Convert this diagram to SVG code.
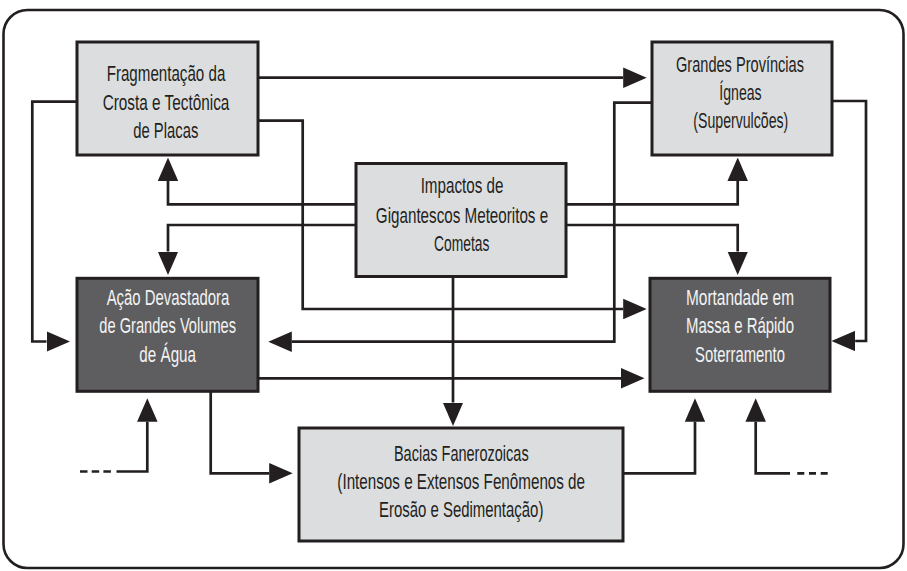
<svg xmlns="http://www.w3.org/2000/svg" width="907" height="571" viewBox="0 0 907 571">
  <style>
    .frame { fill: #ffffff; stroke: #231f20; stroke-width: 2.6; }
    .box-light { fill: #dcdddf; stroke: #231f20; stroke-width: 3; }
    .box-dark { fill: #5e5e60; stroke: #231f20; stroke-width: 3; }
    .lbl { font-family: "Liberation Sans", Arial, sans-serif; font-size: 22px; text-anchor: middle; }
    .lbl-dark { fill: #231f20; }
    .lbl-light { fill: #f4f4f4; }
    .conn { fill: none; stroke: #231f20; stroke-width: 2.7; stroke-linejoin: miter; stroke-linecap: butt; }
    .conn-arrow { marker-end: url(#arr); }
  </style>
  <defs>
    <marker id="arr" viewBox="0 0 23.5 20.5" refX="0" refY="10.25" markerWidth="23.5" markerHeight="20.5" markerUnits="userSpaceOnUse" orient="auto">
      <path d="M0,0 L23.5,10.25 L0,20.5 z" fill="#231f20"/>
    </marker>
  </defs>

  <!-- outer rounded frame -->
  <rect class="frame" x="3.5" y="10" width="900" height="558" rx="24" ry="24"/>

  <!-- connectors -->
  <g id="connectors">
    <path class="conn conn-arrow" d="M258,77.7 H623.2"/>
    <path class="conn conn-arrow" d="M77,101.7 H32.3 V341.5 H46.5"/>
    <path class="conn conn-arrow" d="M258,120.7 H302.7 V309 H623.2"/>
    <path class="conn conn-arrow" d="M652,102.7 H614.3 V341.7 H291.8"/>
    <path class="conn conn-arrow" d="M832,101 H866 V341 H855.2"/>
    <path class="conn conn-arrow" d="M356,204.3 H168 V181"/>
    <path class="conn conn-arrow" d="M356,225 H168 V251.5"/>
    <path class="conn conn-arrow" d="M566,204.3 H737.7 V181"/>
    <path class="conn conn-arrow" d="M566,225 H737.7 V251.5"/>
    <path class="conn conn-arrow" d="M453,276.5 V402.5"/>
    <path class="conn conn-arrow" d="M258,378.3 H621"/>
    <path class="conn conn-arrow" d="M210.7,391 V473.3 H269.2"/>
    <path class="conn conn-arrow" d="M623,473.3 H695 V421.8"/>
    <path class="conn conn-arrow" d="M116.5,471.5 H147.3 V421.8"/>
    <path class="conn" d="M80,471.5 H111" stroke-dasharray="7.5 4.2"/>
    <path class="conn conn-arrow" d="M790,473.3 H755.7 V421.8"/>
    <path class="conn" d="M827.7,473.3 H797" stroke-dasharray="7 4.7"/>
  </g>

  <g id="node-fragmentacao">
    <rect class="box-light" x="77" y="42" width="181" height="113"/>
    <text class="lbl lbl-dark" x="166" y="81" textLength="118.7" lengthAdjust="spacingAndGlyphs">Fragmentação da</text>
    <text class="lbl lbl-dark" x="166" y="110" textLength="126.7" lengthAdjust="spacingAndGlyphs">Crosta e Tectônica</text>
    <text class="lbl lbl-dark" x="165.8" y="138" textLength="65" lengthAdjust="spacingAndGlyphs">de Placas</text>
  </g>

  <g id="node-provincias">
    <rect class="box-light" x="652" y="42" width="180" height="113"/>
    <text class="lbl lbl-dark" x="740" y="71.7" textLength="128" lengthAdjust="spacingAndGlyphs">Grandes Províncias</text>
    <text class="lbl lbl-dark" x="740.5" y="100" textLength="42.3" lengthAdjust="spacingAndGlyphs">Ígneas</text>
    <text class="lbl lbl-dark" x="740.8" y="128.3" textLength="95" lengthAdjust="spacingAndGlyphs">(Supervulcões)</text>
  </g>

  <g id="node-impactos">
    <rect class="box-light" x="356" y="163.5" width="210" height="113"/>
    <text class="lbl lbl-dark" x="462" y="193.3" textLength="82.7" lengthAdjust="spacingAndGlyphs">Impactos de</text>
    <text class="lbl lbl-dark" x="462" y="222.7" textLength="172.3" lengthAdjust="spacingAndGlyphs">Gigantescos Meteoritos e</text>
    <text class="lbl lbl-dark" x="461.7" y="250.7" textLength="55.3" lengthAdjust="spacingAndGlyphs">Cometas</text>
  </g>

  <g id="node-acao">
    <rect class="box-dark" x="77" y="278.3" width="181" height="113"/>
    <text class="lbl lbl-light" x="168" y="305" textLength="122.7" lengthAdjust="spacingAndGlyphs">Ação Devastadora</text>
    <text class="lbl lbl-light" x="167.7" y="333.3" textLength="136.7" lengthAdjust="spacingAndGlyphs">de Grandes Volumes</text>
    <text class="lbl lbl-light" x="167.7" y="361.7" textLength="56.7" lengthAdjust="spacingAndGlyphs">de Água</text>
  </g>

  <g id="node-mortandade">
    <rect class="box-dark" x="650" y="278.3" width="180" height="113"/>
    <text class="lbl lbl-light" x="740" y="305" textLength="108" lengthAdjust="spacingAndGlyphs">Mortandade em</text>
    <text class="lbl lbl-light" x="740" y="333.3" textLength="108" lengthAdjust="spacingAndGlyphs">Massa e Rápido</text>
    <text class="lbl lbl-light" x="740" y="361.7" textLength="90" lengthAdjust="spacingAndGlyphs">Soterramento</text>
  </g>

  <g id="node-bacias">
    <rect class="box-light" x="299" y="428" width="324" height="113"/>
    <text class="lbl lbl-dark" x="461.3" y="461" textLength="134.7" lengthAdjust="spacingAndGlyphs">Bacias Fanerozoicas</text>
    <text class="lbl lbl-dark" x="461.2" y="489.3" textLength="247.7" lengthAdjust="spacingAndGlyphs">(Intensos e Extensos Fenômenos de</text>
    <text class="lbl lbl-dark" x="461.2" y="517.3" textLength="164.3" lengthAdjust="spacingAndGlyphs">Erosão e Sedimentação)</text>
  </g>
</svg>
